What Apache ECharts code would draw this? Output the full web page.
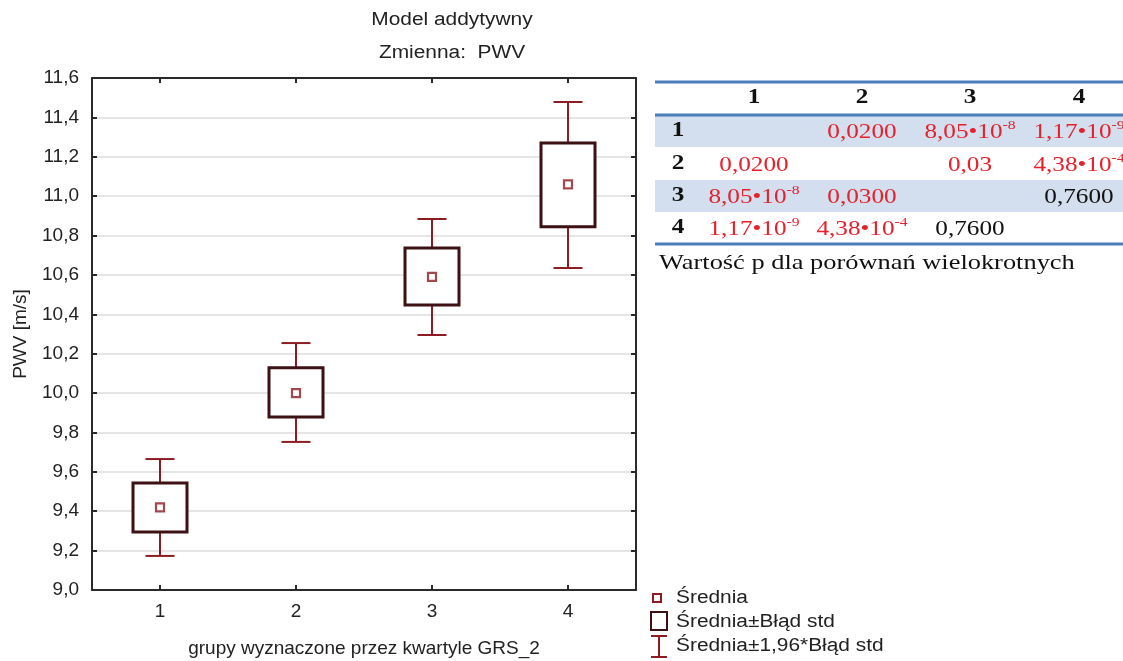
<!DOCTYPE html>
<html>
<head>
<meta charset="utf-8">
<script src="https://cdn.jsdelivr.net/npm/echarts@6/dist/echarts.min.js"></script>
<style>
  html, body { margin: 0; padding: 0; background: #fff; }
  #chart { width: 1123px; height: 661px; }
</style>
</head>
<body>
<div id="chart"></div>
<script>
// groups (quartiles of GRS_2)
const groups = ['1', '2', '3', '4'];
// mean PWV [m/s]
const means = [9.42, 10.00, 10.59, 11.06];
// mean ± standard error
const seLow = [9.295, 9.879, 10.447, 10.844];
const seHigh = [9.543, 10.128, 10.737, 11.270];
// mean ± 1.96 * standard error
const ciLow = [9.173, 9.752, 10.295, 10.635];
const ciHigh = [9.665, 10.254, 10.884, 11.478];

// p values for multiple comparisons ("^" marks the exponent)
const pHeader = ['1', '2', '3', '4'];
const pValues = [
  ['', '0,0200', '8,05•10^-8', '1,17•10^-9'],
  ['0,0200', '', '0,03', '4,38•10^-4'],
  ['8,05•10^-8', '0,0300', '', '0,7600'],
  ['1,17•10^-9', '4,38•10^-4', '0,7600', '']
];
const pSignificant = [
  [false, true, true, true],
  [true, false, true, true],
  [true, true, false, false],
  [true, true, false, false]
];

const sans = '"Liberation Sans", Arial, sans-serif';
const serif = '"Liberation Serif", "Times New Roman", serif';
const boxColor = '#3d1114';
const whiskerColor = '#8c1c22';
const textColor = '#222';

function comma(v) {
  return v.toFixed(1).replace('.', ',');
}

// table layout
const tblLeft = 655, tblRight = 1123;
const colX = [754, 862, 970, 1079];
const rowLabelX = 678;
const headerY = 98;
const rowY = [131, 164, 196, 228];
const serifStretch = 1.2;
const sansStretch = 1.16;

function cellText(s, color) {
  const parts = s.split('^');
  const rich = {
    b: { fontFamily: serif, fontSize: 21, fill: color, lineHeight: 24, verticalAlign: 'bottom' },
    s: { fontFamily: serif, fontSize: 13, fill: color, lineHeight: 24, verticalAlign: 'top', padding: [0, 0, 10, 0] }
  };
  let text = '{b|' + parts[0] + '}';
  if (parts.length > 1) text += '{s|' + parts[1] + '}';
  return { text: text, rich: rich };
}

const graphics = [];
// titles
graphics.push({ type: 'text', x: 452, y: 20, scaleX: sansStretch, style: { text: 'Model addytywny', font: '18px ' + sans, fill: textColor, align: 'center', verticalAlign: 'middle' } });
graphics.push({ type: 'text', x: 452, y: 53, scaleX: sansStretch, style: { text: 'Zmienna:  PWV', font: '18px ' + sans, fill: textColor, align: 'center', verticalAlign: 'middle' } });

// table bands and rules
[0, 2].forEach(function (r) {
  graphics.push({ type: 'rect', shape: { x: tblLeft, y: rowY[r] - 16, width: tblRight - tblLeft, height: 32 }, style: { fill: '#d3dfef' } });
});
[82, 115, 244].forEach(function (y) {
  graphics.push({ type: 'line', shape: { x1: tblLeft, y1: y, x2: tblRight, y2: y }, style: { stroke: '#4a7ebb', lineWidth: 3 } });
});
pHeader.forEach(function (h, i) {
  graphics.push({ type: 'text', x: colX[i], y: headerY, scaleX: serifStretch, style: { text: h, font: 'bold 21px ' + serif, fill: '#111', align: 'center', verticalAlign: 'middle' } });
  graphics.push({ type: 'text', x: rowLabelX, y: rowY[i], scaleX: serifStretch, style: { text: h, font: 'bold 21px ' + serif, fill: '#111', align: 'center', verticalAlign: 'middle' } });
});
pValues.forEach(function (row, r) {
  row.forEach(function (v, c) {
    if (!v) return;
    const col = pSignificant[r][c] ? '#e8202a' : '#111';
    const t = cellText(v, col);
    graphics.push({ type: 'text', x: colX[c], y: rowY[r], scaleX: serifStretch, style: { text: t.text, rich: t.rich, align: 'center', verticalAlign: 'middle' } });
  });
});
graphics.push({ type: 'text', x: 659, y: 263, scaleX: serifStretch, style: { text: 'Wartość p dla porównań wielokrotnych', font: '22px ' + serif, fill: '#111', verticalAlign: 'middle' } });

// legend
graphics.push({ type: 'rect', shape: { x: 653, y: 594, width: 8, height: 8 }, style: { fill: '#fff', stroke: whiskerColor, lineWidth: 2 } });
graphics.push({ type: 'text', x: 676, y: 598, scaleX: sansStretch, style: { text: 'Średnia', font: '18px ' + sans, fill: textColor, verticalAlign: 'middle' } });
graphics.push({ type: 'rect', shape: { x: 651, y: 612, width: 16, height: 18 }, style: { fill: '#fff', stroke: boxColor, lineWidth: 2 } });
graphics.push({ type: 'text', x: 676, y: 622, scaleX: sansStretch, style: { text: 'Średnia±Błąd std', font: '18px ' + sans, fill: textColor, verticalAlign: 'middle' } });
graphics.push({ type: 'line', shape: { x1: 659, y1: 636, x2: 659, y2: 657 }, style: { stroke: whiskerColor, lineWidth: 2 } });
graphics.push({ type: 'line', shape: { x1: 651, y1: 636, x2: 667, y2: 636 }, style: { stroke: whiskerColor, lineWidth: 2 } });
graphics.push({ type: 'line', shape: { x1: 651, y1: 657, x2: 667, y2: 657 }, style: { stroke: whiskerColor, lineWidth: 2 } });
graphics.push({ type: 'text', x: 676, y: 646, scaleX: sansStretch, style: { text: 'Średnia±1,96*Błąd std', font: '18px ' + sans, fill: textColor, verticalAlign: 'middle' } });

const axisLine = { show: true, lineStyle: { color: '#2a2a2a', width: 2 } };
const axisTick = { show: true, inside: true, length: 5, lineStyle: { color: '#2a2a2a', width: 2 } };

const option = {
  animation: false,
  backgroundColor: '#fff',
  grid: { left: 92, right: 487, top: 78, bottom: 71, outerBoundsMode: 'none', containLabel: false },
  xAxis: [
    {
      type: 'category', data: groups, position: 'bottom',
      axisLine: axisLine,
      axisTick: Object.assign({ alignWithLabel: true }, axisTick),
      axisLabel: { margin: 12, fontFamily: sans, fontSize: 19, color: textColor },
      name: 'grupy wyznaczone przez kwartyle GRS_2',
      nameLocation: 'middle', nameGap: 49,
      nameTextStyle: { fontFamily: sans, fontSize: 19, color: textColor }
    },
    {
      type: 'category', data: groups, position: 'top',
      axisLine: axisLine,
      axisTick: Object.assign({ alignWithLabel: true }, axisTick),
      axisLabel: { show: false }
    }
  ],
  yAxis: [
    {
      type: 'value', min: 9.0, max: 11.6, interval: 0.2, position: 'left',
      axisLine: axisLine, axisTick: axisTick,
      axisLabel: { margin: 13, fontFamily: sans, fontSize: 19, color: textColor, formatter: comma },
      splitLine: { show: true, lineStyle: { color: '#dcdcdc', width: 1.5 } },
      name: 'PWV [m/s]', nameLocation: 'middle', nameGap: 62,
      nameTextStyle: { fontFamily: sans, fontSize: 19, color: textColor }
    },
    {
      type: 'value', min: 9.0, max: 11.6, interval: 0.2, position: 'right',
      axisLine: axisLine, axisTick: axisTick,
      axisLabel: { show: false }, splitLine: { show: false }
    }
  ],
  graphic: graphics,
  series: [
    {
      name: 'Średnia±1,96*Błąd std',
      type: 'custom',
      data: groups.map(function (g, i) { return [i, ciLow[i], ciHigh[i]]; }),
      renderItem: function (params, api) {
        const lo = api.coord([api.value(0), api.value(1)]);
        const hi = api.coord([api.value(0), api.value(2)]);
        const cap = 14.5;
        const st = { stroke: whiskerColor, lineWidth: 2 };
        return {
          type: 'group',
          children: [
            { type: 'line', shape: { x1: lo[0], y1: lo[1], x2: hi[0], y2: hi[1] }, style: st },
            { type: 'line', shape: { x1: lo[0] - cap, y1: lo[1], x2: lo[0] + cap, y2: lo[1] }, style: st },
            { type: 'line', shape: { x1: hi[0] - cap, y1: hi[1], x2: hi[0] + cap, y2: hi[1] }, style: st }
          ]
        };
      }
    },
    {
      name: 'Średnia±Błąd std',
      type: 'custom',
      data: groups.map(function (g, i) { return [i, seLow[i], seHigh[i]]; }),
      renderItem: function (params, api) {
        const lo = api.coord([api.value(0), api.value(1)]);
        const hi = api.coord([api.value(0), api.value(2)]);
        const half = 27;
        return {
          type: 'rect',
          shape: { x: lo[0] - half, y: hi[1], width: half * 2, height: lo[1] - hi[1] },
          style: { fill: '#fff', stroke: boxColor, lineWidth: 3 }
        };
      }
    },
    {
      name: 'Średnia',
      type: 'scatter',
      data: groups.map(function (g, i) { return [i, means[i]]; }),
      symbol: 'rect', symbolSize: 8,
      itemStyle: { color: '#fff', borderColor: whiskerColor, borderWidth: 2.2 }
    }
  ]
};

const myChart = echarts.init(document.getElementById('chart'));
myChart.setOption(option);
</script>
</body>
</html>
